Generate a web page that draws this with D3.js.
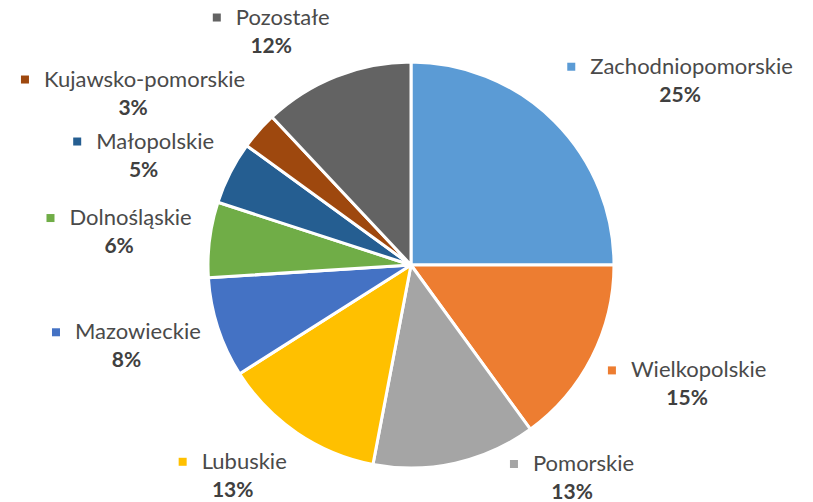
<!DOCTYPE html>
<html>
<head>
<meta charset="utf-8">
<script src="https://cdn.jsdelivr.net/npm/d3@7"></script>
<style>
  body { margin: 0; background: #fff; }
  svg { display: block; }
  text { font-family: Lato, "Open Sans", sans-serif; }
</style>
</head>
<body>
<div id="chart"></div>
<script>
// chart data
var regions = ["Zachodniopomorskie", "Wielkopolskie", "Pomorskie", "Lubuskie", "Mazowieckie",
               "Dolnośląskie", "Małopolskie", "Kujawsko-pomorskie", "Pozostałe"];
var shares = [25, 15, 13, 13, 8, 6, 5, 3, 12];
var colors = ["#5B9BD5", "#ED7D31", "#A5A5A5", "#FFC000", "#4472C4",
              "#70AD47", "#255E91", "#9E480E", "#636363"];

var width = 813, height = 502;
var cx = 411, cy = 265, radius = 203;
var labelGap = 18, lineH = 28, markSize = 8, markGap = 15;

var svg = d3.select("#chart").append("svg")
  .attr("width", width)
  .attr("height", height);

svg.append("rect").attr("width", width).attr("height", height).attr("fill", "#fff");

var slices = regions.map(function(r, i){ return {name: r, value: shares[i], color: colors[i]}; });

var pie = d3.pie().sort(null).value(function(d){ return d.value; });
var arc = d3.arc().innerRadius(0).outerRadius(radius);
var arcs = pie(slices);

var g = svg.append("g").attr("transform", "translate(" + cx + "," + cy + ")");

g.selectAll("path")
  .data(arcs)
  .enter().append("path")
  .attr("d", arc)
  .attr("fill", function(d){ return d.data.color; })
  .attr("stroke", "#fff")
  .attr("stroke-width", 3)
  .attr("stroke-linejoin", "round");

// labels
var labels = svg.append("g").selectAll("g")
  .data(arcs)
  .enter().append("g");

labels.append("rect")
  .attr("class", "mark")
  .attr("width", markSize)
  .attr("height", markSize)
  .attr("fill", function(d){ return d.data.color; });

labels.append("text")
  .attr("class", "name")
  .attr("font-size", "22px")
  .attr("fill", "#4a4a4a")
  .text(function(d){ return d.data.name; });

labels.append("text")
  .attr("class", "pct")
  .attr("font-size", "21px")
  .attr("font-weight", "bold")
  .attr("fill", "#404040")
  .attr("text-anchor", "middle")
  .text(function(d){ return d.data.value + "%"; });

var clamp = function(v, lo, hi){ return Math.max(lo, Math.min(hi, v)); };

// distance from pie centre to the nearest point of a box
var boxDist = function(b){
  var nx = clamp(cx, b.x, b.x + b.w), ny = clamp(cy, b.y, b.y + b.h);
  return Math.sqrt((nx - cx) * (nx - cx) + (ny - cy) * (ny - cy));
};

var overlaps = function(a, b){
  return a.x < b.x + b.w && b.x < a.x + a.w && a.y < b.y + b.h + 4 && b.y < a.y + a.h + 4;
};

// first pass: best fit around the pie
var boxes = [];
labels.each(function(d, i){
  var nameW = d3.select(this).select(".name").node().getComputedTextLength();
  var w = markSize + markGap + nameW, h = lineH * 2;
  var mid = (d.startAngle + d.endAngle) / 2;
  var dir = (Math.sin(mid) * Math.cos(mid) < 0) ? -1 : 1;
  var R = radius + labelGap, b;

  for (var step = 0; step < 90; step++) {
    var a = mid + dir * step * Math.PI / 180;
    var px = R * Math.sin(a) + cx, py = -R * Math.cos(a) + cy;
    var sx = clamp(Math.sin(a) * 3, -1, 1), sy = clamp(-Math.cos(a) * 1.5, -1, 1);
    b = {
      x: clamp(px + (sx - 1) * w / 2, 2, width - w - 2),
      y: clamp(py + (sy - 1) * h / 2, 2, height - h + 4),
      w: w, h: h
    };
    if (boxDist(b) >= radius + 6) break;
  }
  boxes[i] = b;
});

// second pass: push colliding labels down, top to bottom
var order = boxes.map(function(b, i){ return i; })
  .sort(function(a, b){ return boxes[a].y - boxes[b].y; });
var placed = [];
order.forEach(function(i){
  var b = boxes[i];
  placed.forEach(function(p){
    if (overlaps(b, p)) b.y = p.y + p.h + 6;
  });
  placed.push(b);
});

labels.each(function(d, i){
  var sel = d3.select(this), b = boxes[i];
  sel.select(".mark")
    .attr("x", b.x)
    .attr("y", b.y + 10);
  sel.select(".name")
    .attr("x", b.x + markSize + markGap)
    .attr("y", b.y + 21);
  sel.select(".pct")
    .attr("x", b.x + b.w / 2)
    .attr("y", b.y + 21 + lineH);
});
</script>
</body>
</html>
